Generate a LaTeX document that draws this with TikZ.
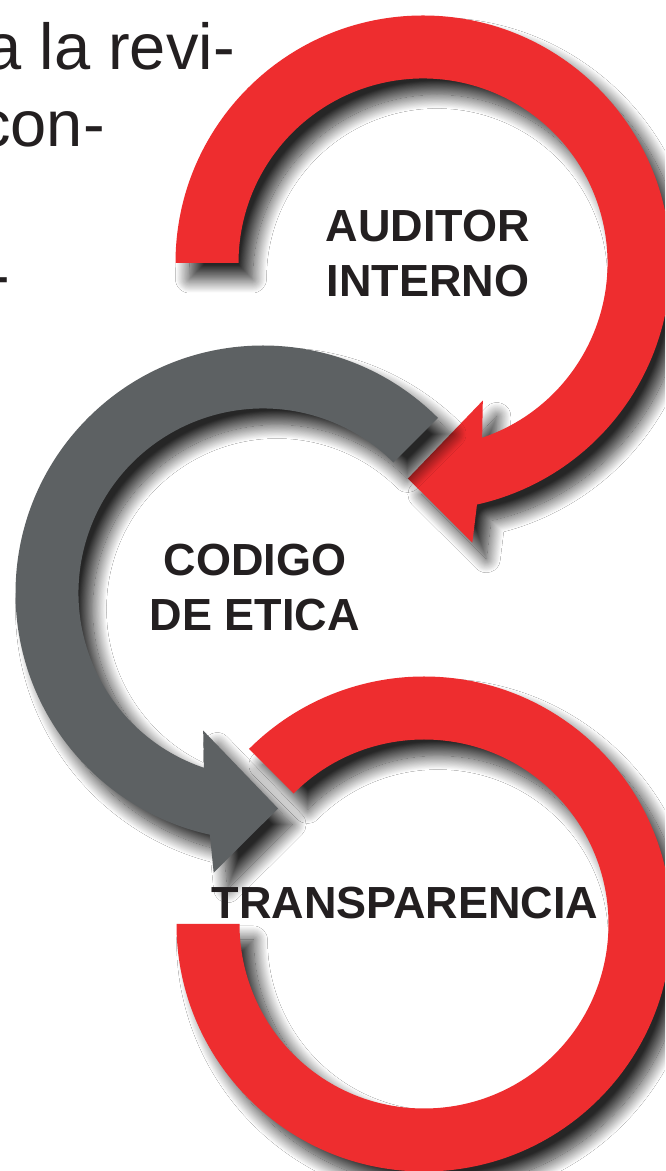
\documentclass[tikz,border=0pt]{standalone}
\usepackage{fontspec}
\setmainfont{Liberation Sans}
\usetikzlibrary{shadows.blur}
\definecolor{ringred}{HTML}{EE2D2F}
\definecolor{ringgray}{HTML}{5D6163}
\definecolor{inkdark}{HTML}{231F20}

\begin{document}
\begin{tikzpicture}[x=1pt, y=1pt]
    \tikzset{
        ring/.style={blur shadow={shadow xshift=14pt, shadow yshift=-16pt, shadow blur radius=14pt, shadow blur steps=24, shadow opacity=85}},
        ringtext/.style={text=inkdark, font=\bfseries\fontsize{45}{55}\selectfont, align=center, inner sep=0pt},
        bodytext/.style={text=inkdark, font=\fontsize{65}{77}\selectfont, inner sep=0pt, anchor=base east}
    }

        \useasboundingbox (0,0) rectangle (665,1171);
        \fill[white] (0,0) rectangle (665,1171);
        \clip (0,0) rectangle (665,1171);

        \coordinate (T) at (423,908);
        \coordinate (G) at (263,578);
        \coordinate (B) at (424,247);

        % running text, cut at the left edge
        \node[bodytext] (line1) at (235,1101) {a la revi-};
        \node[bodytext] (line2) at (105,1024) {con-};
        \node[bodytext] (line3) at (10,873) {-};

        % rings
        \fill[ringred, ring, shift={(T)}] (180:247.5) arc (180:-77.4:247.5) -- (-80:284) -- (-94:216)
            -- (-66.5:150) -- (-71.3:184.5) arc (-71.3:180:184.5) -- cycle;
        \fill[ringred, ring, shift={(B)}] (180:247.5) arc (180:495:247.5) -- (495:184.5)
            arc (495:180:184.5) -- cycle;
        \fill[ringgray, ring, shift={(G)}] (45:247.5) arc (45:257.6:247.5) -- (260:284) -- (274:216)
            -- (246.5:150) -- (251.3:184.5) arc (251.3:45:184.5) -- cycle;

        \node[ringtext] (auditor) at (428,917) {AUDITOR\\INTERNO};
        \node[ringtext] (codigo) at (255,583) {CODIGO\\DE ETICA};
        \node[ringtext] (transp) at (405,268) {TRANSPARENCIA};

    \end{tikzpicture}
\end{document}
